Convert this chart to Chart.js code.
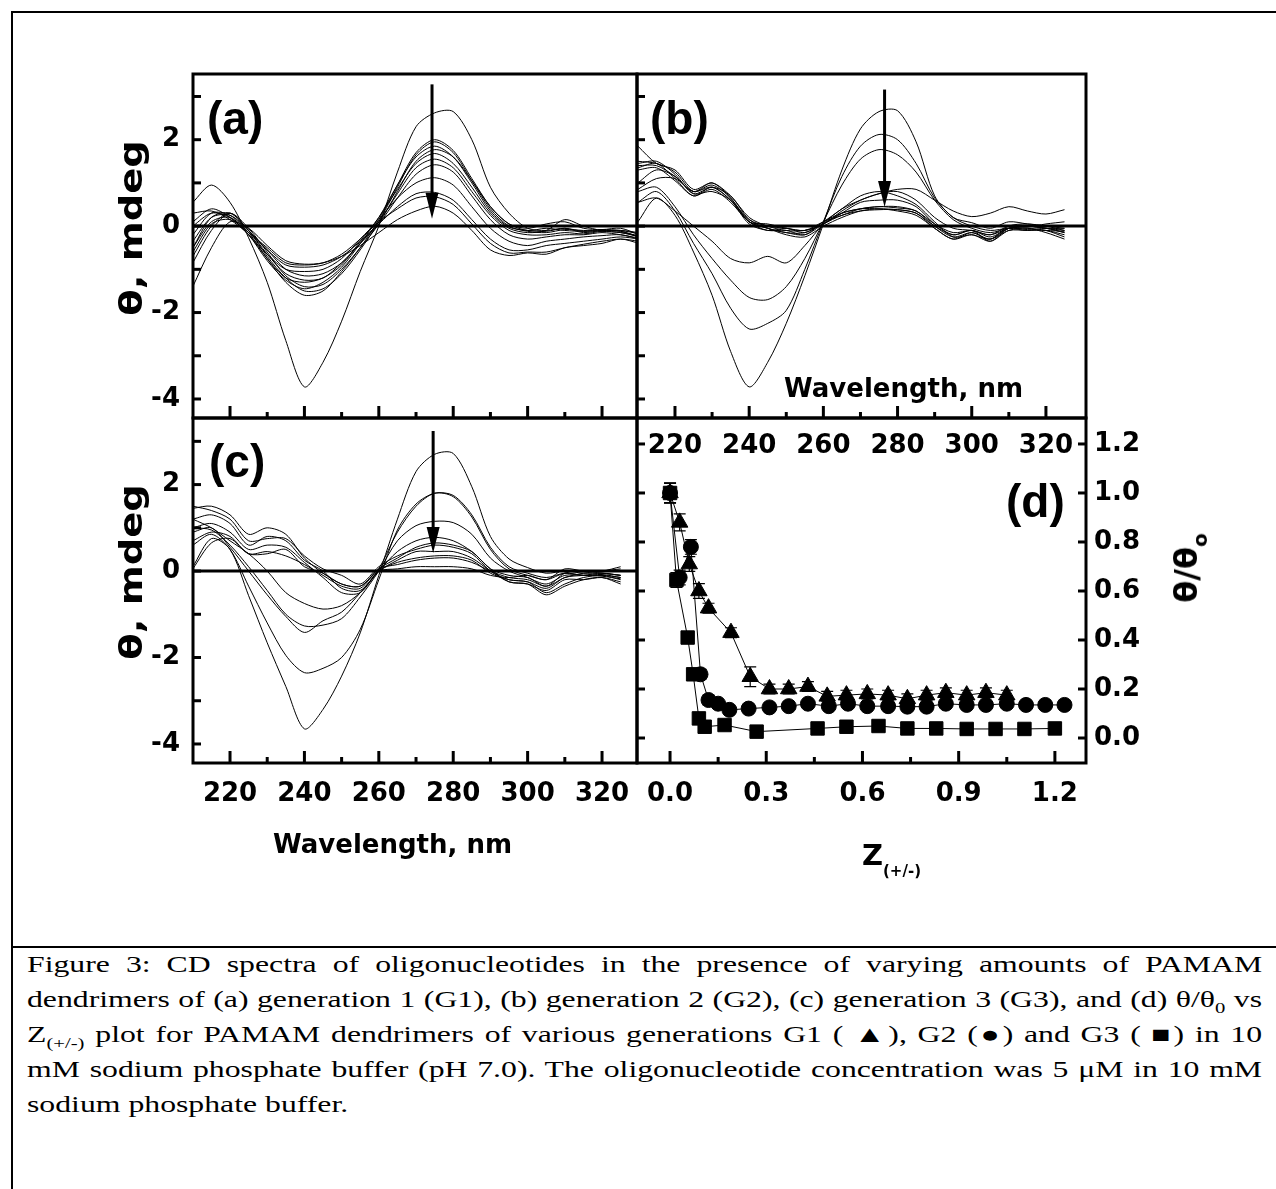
<!DOCTYPE html>
<html>
<head>
<meta charset="utf-8">
<script src="https://cdn.jsdelivr.net/npm/chart.js@4.4.1/dist/chart.umd.min.js"></script>
<style>
  html, body { margin: 0; padding: 0; background: #fff; }
  body { position: relative; width: 1276px; height: 1189px; overflow: hidden; }
  canvas { position: absolute; }
  .rule { position: absolute; background: #000; }
  .lbl { position: absolute; white-space: nowrap; line-height: 1; color: #000; font-family: 'DejaVu Sans', sans-serif; font-weight: bold; }
  .panel { font-family: 'Liberation Sans', Arial, sans-serif; font-size: 46px; }
  .cap { position: absolute; left: 27px; width: 895px; transform: scaleX(1.38); transform-origin: 0 0;
         font-family: 'Liberation Serif', 'Times New Roman', serif; font-size: 23px; line-height: 35px; color: #000; }
  .just { text-align: justify; text-align-last: justify; }
  .cap sub { font-size: 15px; line-height: 0; }
</style>
</head>
<body>
<div class="rule" style="left:11px;top:11px;width:1265px;height:2px"></div>
<div class="rule" style="left:11px;top:11px;width:2px;height:1178px"></div>
<div class="rule" style="left:11px;top:946px;width:1265px;height:2px"></div>

<canvas id="cA" width="560" height="380" style="left:100px;top:60px"></canvas>
<canvas id="cC" width="560" height="470" style="left:100px;top:404px"></canvas>
<canvas id="cB" width="480" height="430" style="left:620px;top:60px"></canvas>
<canvas id="cD" width="640" height="470" style="left:620px;top:404px"></canvas>

<div class="lbl panel" style="left:207px;top:95px">(a)</div>
<div class="lbl panel" style="left:650px;top:95px">(b)</div>
<div class="lbl panel" style="left:209px;top:438px">(c)</div>
<div class="lbl panel" style="left:1006px;top:478px">(d)</div>

<div class="lbl" style="left:131px;top:228px;font-size:32px;transform:translate(-50%,-50%) rotate(-90deg) scaleX(1.2)">θ, mdeg</div>
<div class="lbl" style="left:131px;top:572px;font-size:32px;transform:translate(-50%,-50%) rotate(-90deg) scaleX(1.2)">θ, mdeg</div>
<div class="lbl" style="left:784px;top:375px;font-size:26px">Wavelength, nm</div>
<div class="lbl" style="left:273px;top:831px;font-size:26px">Wavelength, nm</div>
<div class="lbl" style="left:862px;top:841px;font-size:29px">Z</div>
<div class="lbl" style="left:883px;top:864px;font-size:15px">(+/-)</div>
<div class="lbl" style="left:1186px;top:568px;font-size:32px;transform:translate(-50%,-50%) rotate(-90deg)">θ/θ<span style="font-size:20px;position:relative;top:10px">o</span></div>

<div class="cap just" style="top:947px">Figure 3: CD spectra of oligonucleotides in the presence of varying amounts of PAMAM</div>
<div class="cap just" style="top:982px">dendrimers of (a) generation 1 (G1), (b) generation 2 (G2), (c) generation 3 (G3), and (d) θ/θ<sub>0</sub> vs</div>
<div class="cap just" style="top:1017px">Z<sub>(+/-)</sub> plot for PAMAM dendrimers of various generations G1 ( ▲), G2 (●) and G3 ( ■) in 10</div>
<div class="cap just" style="top:1052px">mM sodium phosphate buffer (pH 7.0). The oligonucleotide concentration was 5 μM in 10 mM</div>
<div class="cap" style="top:1087px">sodium phosphate buffer.</div>

<script>
// wavelengths (nm)
const waveA = [210, 215, 220, 225, 230, 235, 240, 245, 250, 255, 260, 265, 270, 275, 280, 285, 290, 295, 300, 305, 310, 315, 320, 325, 330];
const waveB = [210, 215, 220, 225, 230, 235, 240, 245, 250, 255, 260, 265, 270, 275, 280, 285, 290, 295, 300, 305, 310, 315, 320, 325];
const waveC = waveB;

// (a) G1 titration, theta in mdeg
const specA = [
    [0.55, 0.95, 0.55, -0.27, -1.3, -2.65, -3.72, -3.15, -2.2, -1.05, 0.0, 1.25, 2.3, 2.62, 2.65, 2.0, 0.9, 0.3, -0.05, -0.1, -0.05, -0.12, -0.1, -0.12, -0.25],
    [-0.2, 0.3, 0.25, -0.15, -0.75, -1.3, -1.6, -1.5, -1.05, -0.5, 0.15, 0.95, 1.7, 2.0, 1.75, 1.1, 0.45, 0.05, -0.1, -0.05, -0.1, -0.12, -0.08, -0.1, -0.18],
    [-0.5, 0.2, 0.3, -0.1, -0.7, -1.2, -1.5, -1.45, -1.1, -0.55, 0.1, 0.9, 1.65, 1.95, 1.7, 1.05, 0.4, 0.0, -0.12, -0.15, -0.08, -0.1, -0.12, -0.15, -0.22],
    [0.1, 0.4, 0.2, -0.2, -0.8, -1.25, -1.45, -1.3, -0.95, -0.4, 0.2, 0.95, 1.6, 1.85, 1.6, 1.0, 0.35, -0.02, -0.1, -0.12, -0.05, -0.15, -0.1, -0.12, -0.25],
    [-0.7, 0.0, 0.3, -0.05, -0.6, -1.15, -1.4, -1.35, -1.0, -0.5, 0.05, 0.8, 1.5, 1.77, 1.6, 1.05, 0.45, 0.05, -0.05, 0.05, 0.1, -0.05, -0.08, -0.05, -0.2],
    [0.3, 0.35, 0.15, -0.2, -0.75, -1.2, -1.3, -1.2, -0.9, -0.35, 0.2, 0.85, 1.45, 1.68, 1.45, 0.9, 0.3, -0.05, -0.15, -0.1, 0.15, 0.0, -0.1, -0.1, -0.15],
    [-0.35, 0.2, 0.25, -0.1, -0.65, -1.1, -1.25, -1.2, -0.85, -0.4, 0.1, 0.75, 1.35, 1.55, 1.35, 0.8, 0.25, -0.1, -0.2, -0.2, -0.15, -0.18, -0.12, -0.15, -0.25],
    [-0.85, -0.1, 0.3, -0.1, -0.55, -1.0, -1.15, -1.1, -0.85, -0.4, 0.05, 0.65, 1.2, 1.42, 1.25, 0.7, 0.15, -0.2, -0.3, -0.25, -0.2, -0.2, -0.15, -0.2, -0.28],
    [0.0, 0.3, 0.2, -0.2, -0.65, -1.0, -1.05, -1.0, -0.75, -0.3, 0.15, 0.65, 1.0, 1.12, 0.95, 0.45, -0.05, -0.35, -0.45, -0.35, -0.3, -0.25, -0.22, -0.2, -0.3],
    [-0.5, 0.1, 0.2, -0.15, -0.55, -0.9, -0.95, -0.9, -0.7, -0.35, 0.05, 0.45, 0.75, 0.78, 0.6, 0.15, -0.3, -0.55, -0.55, -0.45, -0.4, -0.35, -0.3, -0.25, -0.3],
    [-0.6, 0.05, 0.15, -0.15, -0.5, -0.85, -0.9, -0.85, -0.65, -0.3, 0.1, 0.4, 0.65, 0.68, 0.5, 0.05, -0.4, -0.62, -0.6, -0.6, -0.5, -0.42, -0.35, -0.3, -0.35],
    [-1.4, -0.5, 0.1, -0.05, -0.45, -0.8, -0.88, -0.85, -0.7, -0.45, -0.15, 0.15, 0.35, 0.46, 0.3, -0.1, -0.55, -0.68, -0.62, -0.65, -0.5, -0.45, -0.4, -0.3, -0.4]
];

// (b) G2 titration
const specB = [
    [0.1, 0.65, 0.25, -0.6, -1.6, -2.9, -3.72, -3.15, -2.25, -1.15, 0.05, 1.3, 2.25, 2.65, 2.67, 1.95, 0.7, 0.2, 0.08, -0.05, 0.1, 0.05, 0.0, -0.1],
    [0.55, 0.8, 0.35, -0.4, -1.1, -1.9, -2.38, -2.25, -1.95, -1.0, 0.1, 1.15, 1.85, 2.12, 2.0, 1.45, 0.65, 0.2, 0.0, -0.1, -0.05, -0.1, -0.05, -0.15],
    [0.8, 0.9, 0.45, -0.2, -0.75, -1.25, -1.65, -1.7, -1.4, -0.75, 0.1, 0.95, 1.55, 1.77, 1.65, 1.25, 0.6, 0.15, -0.05, -0.15, -0.05, -0.08, -0.1, -0.12],
    [0.55, 0.65, 0.35, 0.0, -0.35, -0.75, -0.85, -0.7, -0.85, -0.45, 0.05, 0.4, 0.6, 0.75, 0.8, 0.6, 0.2, -0.05, -0.1, -0.2, -0.05, 0.0, -0.05, -0.1],
    [1.85, 1.45, 1.3, 0.85, 1.0, 0.7, 0.2, 0.0, -0.1, -0.1, 0.05, 0.35, 0.6, 0.75, 0.85, 0.85, 0.6, 0.35, 0.22, 0.3, 0.45, 0.35, 0.28, 0.38],
    [1.5, 1.45, 1.25, 0.8, 0.95, 0.65, 0.1, -0.1, -0.05, -0.15, 0.1, 0.4, 0.7, 0.8, 0.7, 0.5, 0.1, -0.25, -0.2, -0.3, -0.05, 0.0, -0.05, -0.15],
    [1.45, 1.5, 1.2, 0.75, 0.9, 0.7, 0.15, -0.05, -0.15, -0.2, 0.05, 0.3, 0.55, 0.6, 0.6, 0.45, 0.05, -0.2, -0.1, -0.35, -0.05, -0.05, -0.1, -0.25],
    [1.4, 1.4, 1.15, 0.8, 1.0, 0.65, 0.1, 0.05, -0.05, -0.1, 0.1, 0.25, 0.4, 0.45, 0.42, 0.35, 0.0, -0.25, -0.15, -0.3, 0.0, 0.05, 0.0, -0.05],
    [1.35, 1.45, 1.1, 0.7, 0.9, 0.6, 0.05, -0.1, -0.1, -0.2, 0.1, 0.3, 0.4, 0.4, 0.38, 0.3, -0.05, -0.3, -0.2, -0.35, -0.1, -0.05, -0.15, -0.3],
    [1.3, 1.35, 1.05, 0.7, 0.85, 0.55, 0.1, -0.05, -0.15, -0.15, 0.05, 0.25, 0.35, 0.38, 0.38, 0.3, 0.0, -0.2, -0.1, -0.25, -0.05, 0.0, -0.05, -0.05],
    [1.0, 1.3, 1.15, 0.75, 0.8, 0.6, 0.15, 0.0, -0.05, -0.1, 0.05, 0.3, 0.4, 0.45, 0.45, 0.35, 0.05, -0.15, -0.1, -0.2, 0.0, -0.02, 0.05, 0.1],
    [0.85, 1.1, 1.1, 0.8, 0.9, 0.6, 0.1, -0.05, -0.2, -0.25, 0.0, 0.2, 0.35, 0.4, 0.35, 0.25, -0.05, -0.3, -0.15, -0.3, -0.1, -0.1, -0.1, -0.2]
];

// (c) G3 titration
const specC = [
    [0.1, 0.75, 0.5, -0.57, -1.66, -2.67, -3.65, -3.2, -2.43, -1.43, -0.1, 1.2, 2.3, 2.7, 2.72, 1.95, 0.8, 0.28, 0.08, -0.05, 0.0, -0.05, -0.05, -0.1],
    [0.6, 0.85, 0.5, -0.35, -1.2, -1.95, -2.35, -2.25, -2.0, -1.35, -0.2, 0.95, 1.55, 1.8, 1.75, 1.3, 0.55, 0.1, -0.05, -0.15, -0.05, -0.1, -0.08, -0.15],
    [0.9, 1.0, 0.55, 0.0, -0.55, -1.05, -1.42, -1.15, -0.95, -0.5, 0.05, 0.9, 1.5, 1.8, 1.72, 1.25, 0.5, 0.05, -0.1, -0.2, -0.05, -0.1, -0.1, -0.2],
    [1.0, 0.95, 0.6, 0.1, -0.45, -1.0, -1.27, -1.25, -1.1, -0.6, 0.0, 0.7, 1.05, 1.15, 1.12, 0.85, 0.3, 0.0, -0.15, -0.3, -0.1, -0.1, -0.12, -0.18],
    [1.2, 1.0, 0.7, 0.4, 0.0, -0.5, -0.75, -0.88, -0.8, -0.5, 0.0, 0.45, 0.7, 0.78, 0.7, 0.45, 0.05, -0.25, -0.3, -0.45, -0.2, -0.2, -0.15, -0.25],
    [1.45, 1.5, 1.3, 0.85, 1.0, 0.85, 0.3, -0.05, -0.3, -0.35, 0.05, 0.3, 0.55, 0.65, 0.6, 0.45, 0.05, -0.1, -0.15, -0.35, -0.05, 0.0, -0.05, -0.1],
    [1.5, 1.4, 1.2, 0.7, 0.75, 0.75, 0.35, 0.05, -0.1, -0.3, 0.1, 0.35, 0.5, 0.6, 0.55, 0.4, 0.0, -0.2, -0.25, -0.5, -0.3, -0.15, -0.1, -0.15],
    [1.2, 1.3, 1.1, 0.6, 0.8, 0.7, 0.25, 0.0, -0.4, -0.45, 0.0, 0.25, 0.45, 0.45, 0.45, 0.3, 0.0, -0.25, -0.3, -0.55, -0.35, -0.2, -0.15, -0.3],
    [1.0, 1.1, 0.9, 0.5, 0.6, 0.55, 0.2, -0.15, -0.5, -0.5, 0.0, 0.2, 0.3, 0.35, 0.35, 0.25, -0.05, -0.2, -0.25, -0.4, -0.15, -0.1, -0.05, -0.1],
    [0.7, 0.9, 0.8, 0.4, 0.45, 0.35, 0.15, -0.1, -0.35, -0.4, 0.05, 0.15, 0.25, 0.3, 0.3, 0.2, 0.0, -0.15, -0.2, -0.35, -0.15, -0.05, 0.0, 0.05],
    [0.05, 0.65, 0.75, 0.4, 0.4, 0.5, 0.1, -0.05, -0.3, -0.35, 0.0, 0.05, 0.1, 0.1, 0.1, 0.05, -0.1, -0.15, -0.1, -0.2, 0.05, 0.0, 0.0, 0.1]
];

// arrows: [wavelength, start theta, tip theta]
const arrowA = [274.3, 3.28, 0.17];
const arrowB = [276.5, 3.16, 0.44];
const arrowC = [274.6, 3.24, 0.42];

// (d) theta/theta0 vs Z(+/-)
const zG1 = [0, 0.03, 0.06, 0.09, 0.12, 0.19, 0.25, 0.31, 0.37, 0.43, 0.49, 0.55, 0.615, 0.68, 0.74, 0.8, 0.86, 0.925, 0.985, 1.05];
const rG1 = [1.0, 0.88, 0.71, 0.6, 0.53, 0.43, 0.25, 0.2, 0.2, 0.21, 0.17, 0.175, 0.18, 0.175, 0.16, 0.175, 0.185, 0.175, 0.185, 0.175];
const eG1 = [0.04, 0.035, 0.03, 0.03, 0.02, 0.02, 0.04, 0.02, 0.02, 0.02, 0.02, 0.02, 0.02, 0.02, 0.02, 0.02, 0.02, 0.02, 0.02, 0.02];
const zG2 = [0, 0.03, 0.065, 0.095, 0.12, 0.15, 0.185, 0.245, 0.31, 0.37, 0.43, 0.495, 0.555, 0.615, 0.68, 0.74, 0.8, 0.86, 0.925, 0.985, 1.05, 1.11, 1.17, 1.23];
const rG2 = [1.0, 0.655, 0.78, 0.26, 0.155, 0.14, 0.115, 0.12, 0.125, 0.13, 0.14, 0.13, 0.14, 0.13, 0.13, 0.128, 0.128, 0.14, 0.135, 0.135, 0.14, 0.135, 0.135, 0.135];
const eG2 = [0.04, 0.03, 0.03, 0.02, 0.02, 0.01, 0.01, 0.01, 0.01, 0.01, 0.01, 0.01, 0.01, 0.01, 0.01, 0.01, 0.01, 0.01, 0.01, 0.01, 0.01, 0.01, 0.01, 0.01];
const zG3 = [0, 0.02, 0.055, 0.072, 0.09, 0.108, 0.17, 0.27, 0.46, 0.55, 0.65, 0.74, 0.83, 0.925, 1.015, 1.105, 1.2];
const rG3 = [1.0, 0.645, 0.41, 0.26, 0.08, 0.046, 0.053, 0.026, 0.039, 0.046, 0.049, 0.039, 0.039, 0.037, 0.037, 0.037, 0.039];
const eG3 = [0.04, 0.03, 0.02, 0.02, 0.01, 0.01, 0.01, 0.01, 0.01, 0.01, 0.01, 0.01, 0.01, 0.01, 0.01, 0.01, 0.01];

// ticks
const waveLabels = [220, 240, 260, 280, 300, 320];
const waveMinor = [230, 250, 270, 290, 310];
const thetaLabels = [-4, -2, 0, 2];
const thetaTicks = [-4, -3, -2, -1, 0, 1, 2, 3];
const zLabels = [0, 0.3, 0.6, 0.9, 1.2];
const zMinor = [0.15, 0.45, 0.75, 1.05];
const ratioLabels = [0, 0.2, 0.4, 0.6, 0.8, 1.0, 1.2];

Chart.defaults.color = '#000';
const tickFont = { family: 'DejaVu Sans', size: 26, weight: 'bold' };

// scale label overflow would otherwise shrink the plot box
const noPadX = s => { s.paddingLeft = 0; s.paddingRight = 0; };
const noPadY = s => { s.paddingTop = 0; s.paddingBottom = 0; };

const panelDeco = {
    id: 'panelDeco',
    afterDatasetsDraw(chart, args, o) {
        const { ctx, chartArea: a } = chart;
        const x = chart.scales.x, y = chart.scales.y;
        const seg = (x1, y1, x2, y2) => { ctx.beginPath(); ctx.moveTo(x1, y1); ctx.lineTo(x2, y2); ctx.stroke(); };
        ctx.save();
        ctx.strokeStyle = '#000';
        ctx.fillStyle = '#000';
        ctx.lineWidth = 3;
        if (o.zero) {
            const py = y.getPixelForValue(0);
            seg(a.left, py, a.right, py);
        }
        (o.xMajor || []).forEach(v => { const px = x.getPixelForValue(v); seg(px, a.bottom, px, a.bottom - 12); });
        (o.xMinor || []).forEach(v => { const px = x.getPixelForValue(v); seg(px, a.bottom, px, a.bottom - 6); });
        (o.yLeft || []).forEach(v => { const py = y.getPixelForValue(v); seg(a.left, py, a.left + 8, py); });
        (o.yRight || []).forEach(v => { const py = y.getPixelForValue(v); seg(a.right, py, a.right - 8, py); });
        if (o.arrow) {
            const px = x.getPixelForValue(o.arrow[0]);
            const top = y.getPixelForValue(o.arrow[1]);
            const tip = y.getPixelForValue(o.arrow[2]);
            seg(px, top, px, tip - 20);
            ctx.beginPath();
            ctx.moveTo(px - 6.5, tip - 26);
            ctx.lineTo(px + 6.5, tip - 26);
            ctx.lineTo(px, tip);
            ctx.closePath();
            ctx.fill();
        }
        ctx.strokeRect(a.left, a.top, a.right - a.left, a.bottom - a.top);
        ctx.restore();
    }
};

const errorBars = {
    id: 'errorBars',
    afterDatasetsDraw(chart) {
        const { ctx } = chart;
        const y = chart.scales.y;
        ctx.save();
        ctx.strokeStyle = '#000';
        ctx.lineWidth = 1.2;
        chart.data.datasets.forEach((ds, i) => {
            if (!ds.errors) return;
            chart.getDatasetMeta(i).data.forEach((pt, j) => {
                const v = ds.data[j].y, e = ds.errors[j];
                const t = y.getPixelForValue(v + e), b = y.getPixelForValue(v - e);
                ctx.beginPath();
                ctx.moveTo(pt.x, t); ctx.lineTo(pt.x, b);
                ctx.moveTo(pt.x - 6, t); ctx.lineTo(pt.x + 6, t);
                ctx.moveTo(pt.x - 6, b); ctx.lineTo(pt.x + 6, b);
                ctx.stroke();
            });
        });
        ctx.restore();
    }
};

function specChart(id, waves, series, o) {
    return new Chart(document.getElementById(id), {
        type: 'line',
        data: {
            datasets: series.map(s => ({
                data: s.map((v, i) => ({ x: waves[i], y: v })),
                borderColor: '#000', borderWidth: 1, pointRadius: 0, tension: 0.3, fill: false
            }))
        },
        options: {
            responsive: false, animation: false, events: [],
            layout: { autoPadding: false, padding: o.pad },
            plugins: {
                legend: { display: false }, tooltip: { enabled: false },
                panelDeco: { zero: true, xMajor: waveLabels, xMinor: waveMinor, yLeft: thetaTicks, arrow: o.arrow }
            },
            scales: {
                x: {
                    type: 'linear', min: o.xr[0], max: o.xr[1], display: o.xh > 0,
                    afterBuildTicks: s => { s.ticks = waveLabels.map(v => ({ value: v })); },
                    afterFit: s => { if (o.xh > 0) s.height = o.xh; noPadX(s); },
                    grid: { display: false, drawTicks: false }, border: { display: false },
                    ticks: { font: tickFont, color: '#000', padding: o.xPad, maxRotation: 0, autoSkip: false }
                },
                y: {
                    type: 'linear', min: o.yr[0], max: o.yr[1], display: o.yw > 0,
                    afterBuildTicks: s => { s.ticks = thetaLabels.map(v => ({ value: v })); },
                    afterFit: s => { if (o.yw > 0) s.width = o.yw; noPadY(s); },
                    grid: { display: false, drawTicks: false }, border: { display: false },
                    ticks: { font: tickFont, color: '#000', padding: 13 }
                }
            }
        },
        plugins: [panelDeco]
    });
}

specChart('cA', waveA, specA, { pad: { left: 0, right: 23, top: 14, bottom: 22 }, xr: [210.05, 329.4], yr: [-4.44, 3.52], xh: 0, yw: 93, xPad: 0, arrow: arrowA });
specChart('cC', waveC, specC, { pad: { left: 0, right: 23, top: 14, bottom: 51 }, xr: [210.05, 329.4], yr: [-4.44, 3.54], xh: 60, yw: 93, xPad: 16, arrow: arrowC });
specChart('cB', waveB, specB, { pad: { left: 17, right: 14, top: 14, bottom: 22 }, xr: [209.76, 330.8], yr: [-4.44, 3.52], xh: 50, yw: 0, xPad: 13, arrow: arrowB });

function gen(z, r, e, style, radius) {
    return {
        data: z.map((v, i) => ({ x: v, y: r[i] })), errors: e,
        borderColor: '#000', borderWidth: 1, tension: 0,
        pointStyle: style, pointRadius: radius,
        pointBackgroundColor: '#000', pointBorderColor: '#000', pointBorderWidth: 1
    };
}

new Chart(document.getElementById('cD'), {
    type: 'line',
    data: {
        datasets: [
            gen(zG1, rG1, eG1, 'triangle', 9.5),
            gen(zG3, rG3, eG3, 'rect', 9.5),
            gen(zG2, rG2, eG2, 'circle', 7.5)
        ]
    },
    options: {
        responsive: false, animation: false, events: [],
        layout: { autoPadding: false, padding: { left: 17, right: 84, top: 14, bottom: 51 } },
        plugins: {
            legend: { display: false }, tooltip: { enabled: false },
            panelDeco: { zero: false, xMajor: zLabels, xMinor: zMinor, yLeft: ratioLabels, yRight: ratioLabels }
        },
        scales: {
            x: {
                type: 'linear', min: -0.103, max: 1.297,
                afterBuildTicks: s => { s.ticks = zLabels.map(v => ({ value: v })); },
                afterFit: s => { s.height = 60; noPadX(s); },
                grid: { display: false, drawTicks: false }, border: { display: false },
                ticks: { font: tickFont, color: '#000', padding: 16, maxRotation: 0, autoSkip: false, callback: v => v.toFixed(1) }
            },
            y: {
                type: 'linear', position: 'right', min: -0.102, max: 1.306,
                afterBuildTicks: s => { s.ticks = ratioLabels.map(v => ({ value: v })); },
                afterFit: s => { s.width = 90; noPadY(s); },
                grid: { display: false, drawTicks: false }, border: { display: false },
                ticks: { font: tickFont, color: '#000', padding: 8, callback: v => v.toFixed(1) }
            }
        }
    },
    plugins: [panelDeco, errorBars]
});
</script>
</body>
</html>
